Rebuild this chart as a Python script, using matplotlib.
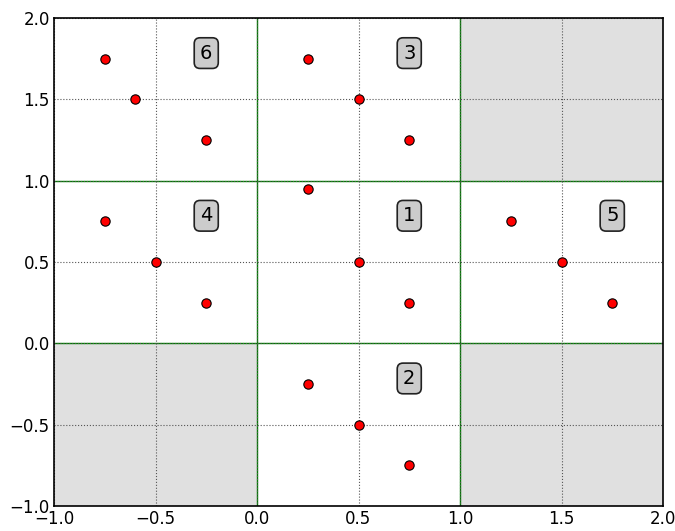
import matplotlib
matplotlib.use("Agg")
import matplotlib.pyplot as plt

pts_x = [-0.75, -0.6, -0.25, 0.25, 0.5, 0.75, -0.75, -0.5, -0.25,
         0.25, 0.5, 0.75, 1.25, 1.5, 1.75, 0.25, 0.5, 0.75]
pts_y = [1.75, 1.5, 1.25, 1.75, 1.5, 1.25, 0.75, 0.5, 0.25,
         0.95, 0.5, 0.25, 0.75, 0.5, 0.25, -0.25, -0.5, -0.75]
labels = ["1", "2", "3", "4", "5", "6"]
label_x = [0.75, 0.75, 0.75, -0.25, 1.75, -0.25]
label_y = [0.75, -0.25, 1.75, 0.75, 0.75, 1.75]
gray_cells = [(1, 1), (-1, -1), (1, -1)]
ticks = [-1.0, -0.5, 0.0, 0.5, 1.0, 1.5, 2.0]

fig = plt.figure(figsize=(6.75, 5.31), dpi=100)
ax = fig.add_axes([54/675, 1 - 506/531, (663-54)/675, (506-18)/531])
ax.set_xlim(-1, 2)
ax.set_ylim(-1, 2)
for (cx, cy) in gray_cells:
    ax.add_patch(plt.Rectangle((cx, cy), 1, 1, facecolor="#e0e0e0", edgecolor="none", zorder=0))
ax.set_xticks(ticks)
ax.set_yticks(ticks)
ax.grid(True, linestyle=":", color="#555555", linewidth=0.8)
for v in [0, 1]:
    ax.axvline(v, color="green", linewidth=1, zorder=1)
    ax.axhline(v, color="green", linewidth=1, zorder=1)
ax.scatter(pts_x, pts_y, s=45, facecolor="red", edgecolor="black", linewidth=0.8, zorder=3)
for t, x, y in zip(labels, label_x, label_y):
    ax.annotate(t, (x, y), xytext=(0, 4), textcoords="offset points",
                ha="center", va="center", fontsize=14,
                bbox=dict(boxstyle="round,pad=0.3,rounding_size=0.3", facecolor="#cccccc",
                          edgecolor="#222222", linewidth=1.2))
ax.tick_params(length=0, labelsize=12, pad=3)
for s in ax.spines.values():
    s.set_linewidth(1.2)
fig.savefig("out.png", dpi=100)
